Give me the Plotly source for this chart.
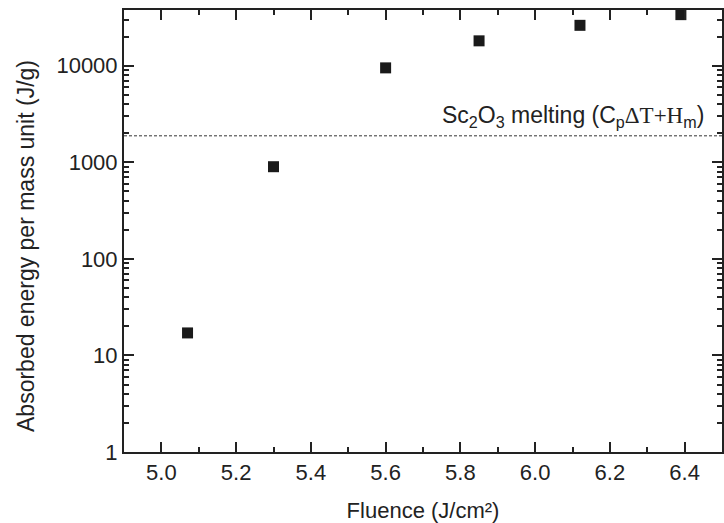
import plotly.graph_objects as go

fluence = [5.07, 5.30, 5.60, 5.85, 6.12, 6.39]
energy = [17.1, 900, 9500, 18100, 26200, 33800]
melting_level = 1880
y_tickvals = [1, 10, 100, 1000, 10000]
y_ticktext = ["1", "10", "100", "1000", "10000"]
x_tickvals = [5.0, 5.2, 5.4, 5.6, 5.8, 6.0, 6.2, 6.4]
x_ticktext = ["5.0", "5.2", "5.4", "5.6", "5.8", "6.0", "6.2", "6.4"]

ink = "#222222"
font = "Liberation Sans"

fig = go.Figure()
fig.add_trace(go.Scatter(
    x=fluence, y=energy, mode="markers",
    marker=dict(symbol="square", size=11, color="#1a1a1a", line=dict(width=0)),
    showlegend=False,
))

fig.add_shape(type="line", xref="paper", x0=0, x1=1, yref="y",
              y0=melting_level, y1=melting_level,
              line=dict(color="#333333", width=1, dash="3px,2px"))

fig.add_annotation(
    xref="paper", x=0.973, yref="y", y=3.278, yshift=2,
    xanchor="right", yanchor="bottom", showarrow=False,
    text=("Sc<sub>2</sub>O<sub>3</sub> melting (C<sub>p</sub>"
          "<span style=\"font-family:'Liberation Serif'\">ΔT+H</span>"
          "<sub>m</sub>)"),
    font=dict(family=font, size=23, color=ink),
)

fig.add_annotation(
    xref="paper", x=-0.163, yref="paper", y=0.465,
    xanchor="center", yanchor="middle", showarrow=False, textangle=-90,
    text="Absorbed energy per mass unit (J/g)",
    font=dict(family=font, size=23, color=ink),
)

fig.update_layout(
    width=724, height=523,
    margin=dict(l=124, r=0, t=10, b=71),
    paper_bgcolor="white", plot_bgcolor="white",
    font=dict(family=font, color=ink, size=22),
    xaxis=dict(
        range=[4.9, 6.5], tickvals=x_tickvals, ticktext=x_ticktext,
        ticks="inside", ticklen=10, tickwidth=2, tickcolor=ink,
        showline=True, linewidth=2, linecolor=ink, mirror="allticks",
        showgrid=False, zeroline=False,
        minor=dict(dtick=0.1, tick0=4.9, ticks="inside", ticklen=5, tickwidth=2, tickcolor=ink, showgrid=False),
        title=dict(text="Fluence (J/cm²)", font=dict(family=font, size=22, color=ink), standoff=20),
        tickfont=dict(family=font, size=22, color=ink),
    ),
    yaxis=dict(
        type="log", range=[0, 4.577],
        tickvals=y_tickvals, ticktext=y_ticktext,
        ticks="inside", ticklen=10, tickwidth=2, tickcolor=ink,
        showline=True, linewidth=2, linecolor=ink, mirror="allticks",
        showgrid=False, zeroline=False,
        minor=dict(dtick="D1", ticks="inside", ticklen=5, tickwidth=2, tickcolor=ink, showgrid=False),
        tickfont=dict(family=font, size=22, color=ink),
    ),
)

fig.write_html("out.html")
